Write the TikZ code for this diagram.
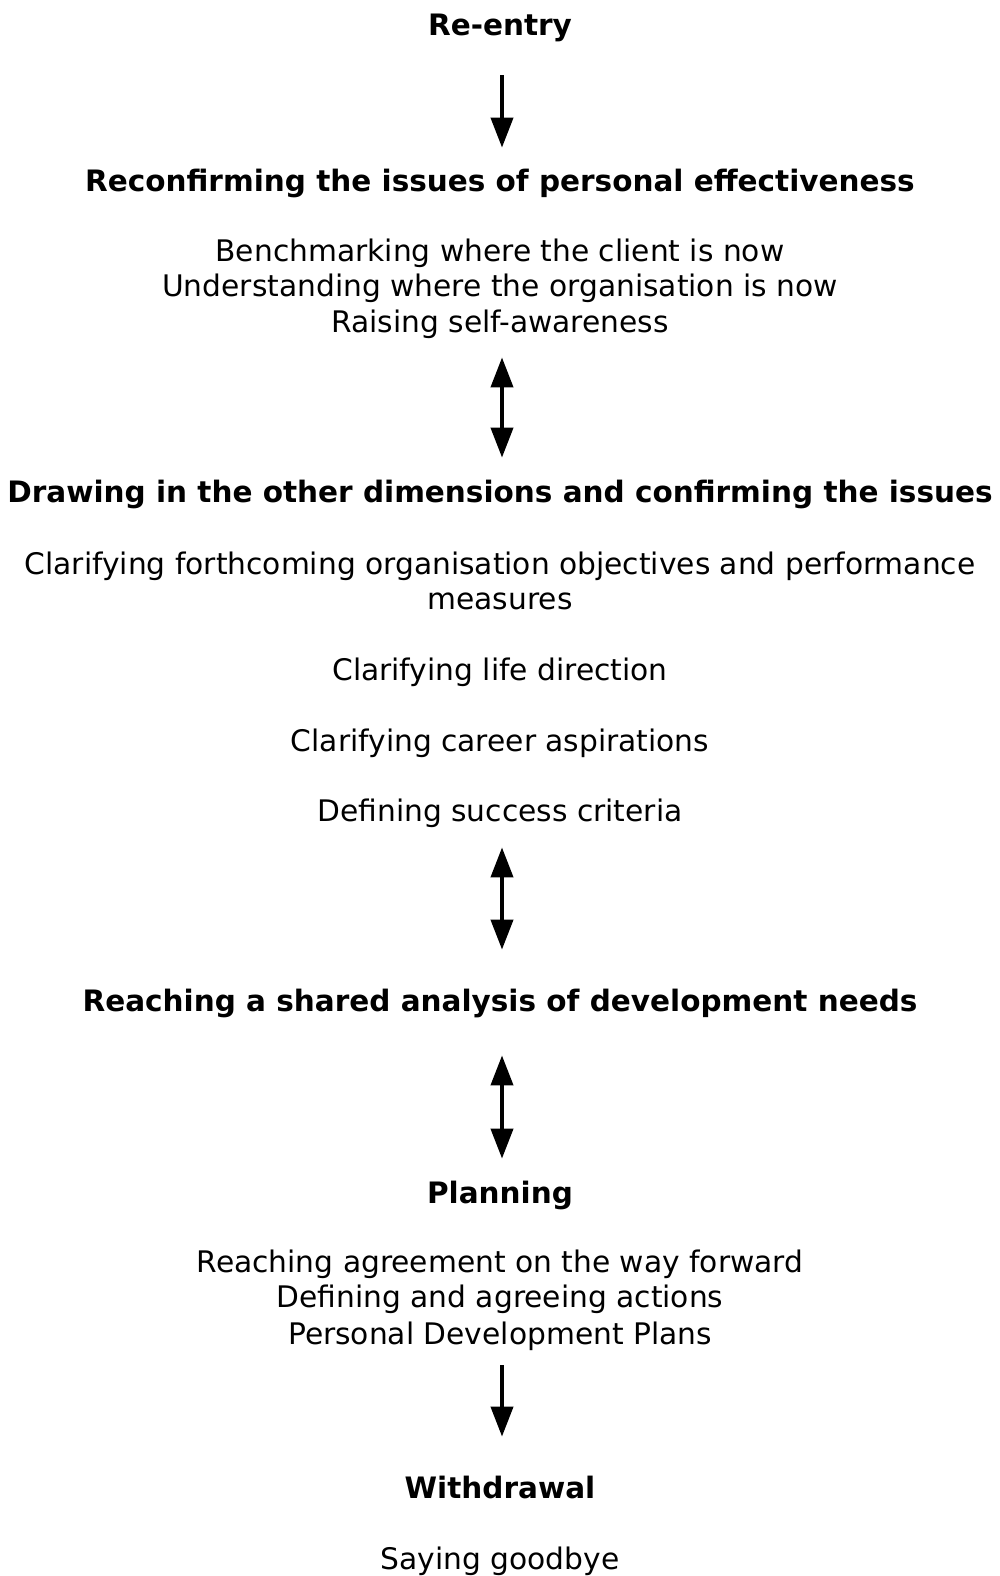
\documentclass[tikz,border=0pt]{standalone}
\usepackage{fontspec}
\setmainfont{DejaVu Sans}
\usepackage{tikz}
\usetikzlibrary{arrows.meta}
\tikzset{
  txt/.style={anchor=base, inner sep=0pt, text height=10pt, text depth=3pt, font=\fontsize{14.85}{17.5}\selectfont},
  head/.style={txt, font=\fontsize{14.75}{17.5}\selectfont\bfseries},
  flow/.style={line width=2pt, -{Triangle[width=11pt,length=15pt]}},
  both/.style={line width=2pt, {Triangle[width=11pt,length=15pt]}-{Triangle[width=11pt,length=15pt]}}
}

\begin{document}
\begin{tikzpicture}[x=0.5pt,y=-0.5pt]
    \useasboundingbox (0,0) rectangle (1000,1576);
    \node (reentry)  at (500,35)   [head] {Re-entry};
    \node (reconf)   at (500,191)  [head] {Reconfirming the issues of personal effectiveness};
    \node (bench)    at (500,261)  [txt] {Benchmarking where the client is now};
    \node (underst)  at (500,296)  [txt] {Understanding where the organisation is now};
    \node (raising)  at (500,332)  [txt] {Raising self-awareness};
    \node (drawing)  at (500,502)  [head] {Drawing in the other dimensions and confirming the issues};
    \node (objectiv) at (500,574)  [txt] {Clarifying forthcoming organisation objectives and performance};
    \node (measures) at (500,609)  [txt] {measures};
    \node (life)     at (500,680)  [txt] {Clarifying life direction};
    \node (career)   at (500,751)  [txt] {Clarifying career aspirations};
    \node (success)  at (500,821)  [txt] {Defining success criteria};
    \node (shared)   at (500,1011) [head] {Reaching a shared analysis of development needs};
    \node (planning) at (500,1203) [head] {Planning};
    \node (agree)    at (500,1272) [txt] {Reaching agreement on the way forward};
    \node (actions)  at (500,1307) [txt] {Defining and agreeing actions};
    \node (pdp)      at (500,1344) [txt] {Personal Development Plans};
    \node (withdraw) at (500,1498) [head] {Withdrawal};
    \node (goodbye)  at (500,1569) [txt] {Saying goodbye};

    \draw[flow, shorten <=17pt, shorten >=11.5pt] ([xshift=1pt]reentry.south) -- ([xshift=1pt]reconf.north);
    \draw[both, shorten <=9.5pt, shorten >=12pt] ([xshift=1pt]raising.south) -- ([xshift=1pt]drawing.north);
    \draw[both, shorten <=10pt, shorten >=20.5pt] ([xshift=1pt]success.south) -- ([xshift=1pt]shared.north);
    \draw[both, shorten <=19pt, shorten >=12pt] ([xshift=1pt]shared.south) -- ([xshift=1pt]planning.north);
    \draw[flow, shorten <=7.5pt, shorten >=20.5pt] ([xshift=1pt]pdp.south) -- ([xshift=1pt]withdraw.north);
\end{tikzpicture}
\end{document}
